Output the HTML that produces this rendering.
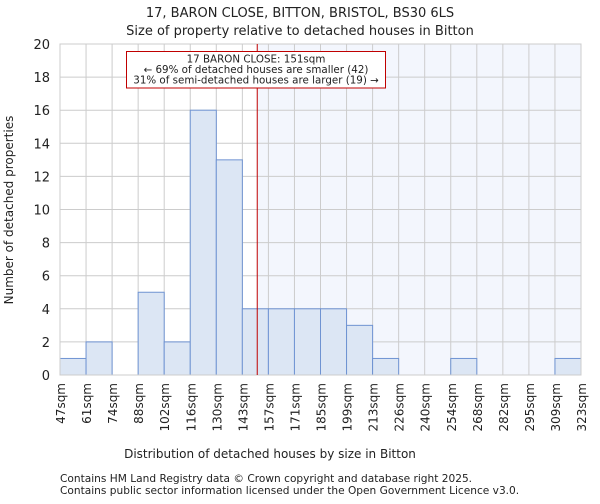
<!DOCTYPE html>
<html><head><meta charset="utf-8"><style>
body{margin:0;background:#fff;font-family:"DejaVu Sans","Liberation Sans",sans-serif}
svg text{font-family:"DejaVu Sans","Liberation Sans",sans-serif;fill:#222}
</style></head><body>
<svg id="c" width="600" height="500" viewBox="0 0 600 500" xmlns="http://www.w3.org/2000/svg">
<text x="300" y="17" text-anchor="middle" font-size="13">17, BARON CLOSE, BITTON, BRISTOL, BS30 6LS</text>
<text x="300" y="35" text-anchor="middle" font-size="13">Size of property relative to detached houses in Bitton</text>
<g id="plot"></g>
<text x="270" y="458" text-anchor="middle" font-size="12">Distribution of detached houses by size in Bitton</text>
<text transform="translate(13,210) rotate(-90)" text-anchor="middle" font-size="12">Number of detached properties</text>
<text x="60" y="482" font-size="10.6" fill="#444">Contains HM Land Registry data © Crown copyright and database right 2025.</text>
<text x="60" y="494" font-size="10.6" fill="#444">Contains public sector information licensed under the Open Government Licence v3.0.</text>
</svg>
<script>
const binLabels=["47sqm","61sqm","74sqm","88sqm","102sqm","116sqm","130sqm","143sqm","157sqm","171sqm","185sqm","199sqm","213sqm","226sqm","240sqm","254sqm","268sqm","282sqm","295sqm","309sqm","323sqm"];
const binEdges=[47,61,74,88,102,116,130,143,157,171,185,199,213,226,240,254,268,282,295,309,323];
const counts=[1,2,0,5,2,16,13,4,4,4,4,3,1,0,0,1,0,0,0,1];
const yTicks=[0,2,4,6,8,10,12,14,16,18,20];
const propertySize=151;
const NS="http://www.w3.org/2000/svg";
const L=60,R=581,T=44,B=375,yMax=20;
const nb=counts.length,bw=(R-L)/nb;
const xi=i=>L+i*bw;
const xv=v=>{for(let i=0;i<binEdges.length-1;i++){if(v<=binEdges[i+1])return xi(i)+(v-binEdges[i])/(binEdges[i+1]-binEdges[i])*bw;}return R;};
const y=v=>B-v/yMax*(B-T);
const g=document.getElementById('plot');
function mk(t,a){const e=document.createElementNS(NS,t);for(const k in a)e.setAttribute(k,a[k]);g.appendChild(e);return e;}
const px=xv(propertySize);
const sh=mk('rect',{x:px,y:T,width:R-px,height:B-T,fill:'#f3f6fd'});


yTicks.forEach(t=>{
 const l=mk('line',{x1:L,x2:R,y1:y(t),y2:y(t),stroke:'#ccc','stroke-width':1});
 
 
 const tx=mk('text',{x:L-10,y:y(t)+5,'text-anchor':'end','font-size':13});
 tx.textContent=t;
 
 
});
binLabels.forEach((s,i)=>{
 const l=mk('line',{x1:xi(i),x2:xi(i),y1:T,y2:B,stroke:'#ccc','stroke-width':1});
 
 
 const tx=mk('text',{transform:`translate(${xi(i)+5},383) rotate(-90)`,'text-anchor':'end','font-size':12});
 tx.textContent=s;
 
 
});
counts.forEach((c,i)=>{
 if(!c)return;
 const r=mk('rect',{x:xi(i),y:y(c),width:bw,height:B-y(c),fill:'#dce6f4',stroke:'#6f93d2','stroke-width':1});
 
 
});
const ax=mk('rect',{x:L,y:T,width:R-L,height:B-T,fill:'none',stroke:'#ccc'});


const pl=mk('line',{x1:px,x2:px,y1:T,y2:B,stroke:'#c00000','stroke-width':1});


const bx=mk('rect',{x:126.5,y:51.5,width:259,height:36.5,fill:'#fff',stroke:'#c00000','stroke-width':1});


["17 BARON CLOSE: 151sqm","← 69% of detached houses are smaller (42)","31% of semi-detached houses are larger (19) →"].forEach((s,i)=>{
 const t=mk('text',{x:256,y:62.5+i*10.5,'text-anchor':'middle','font-size':10.3});
 t.textContent=s;
 
 
});
</script>
</body></html>
